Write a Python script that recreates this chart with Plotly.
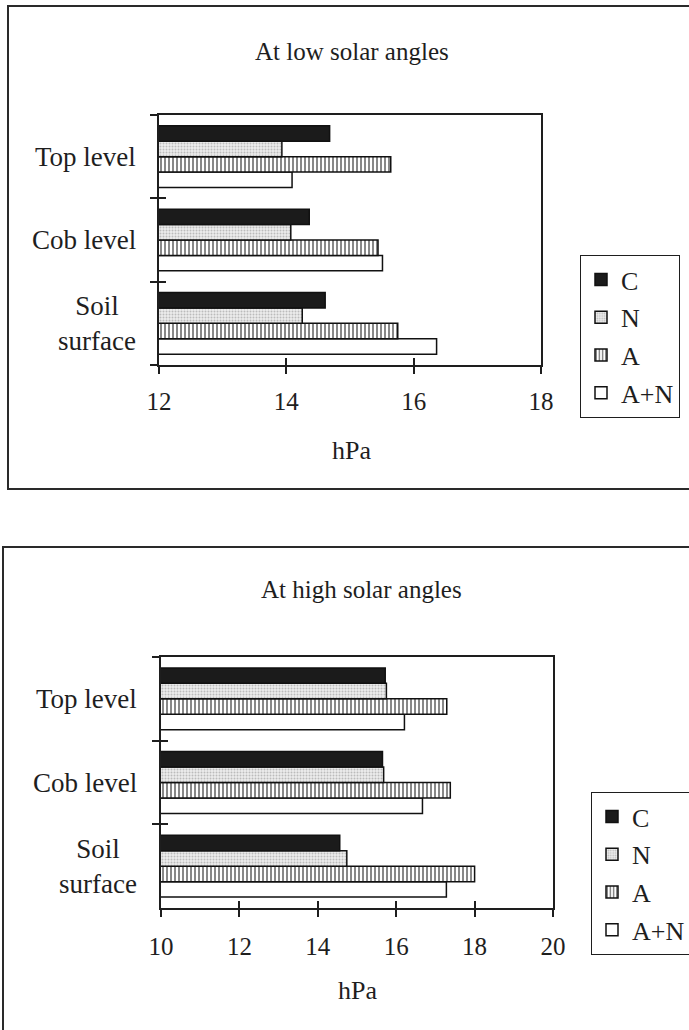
import plotly.graph_objects as go

# Canopy levels, bottom to top
levels = ["Soil surface", "Cob level", "Top level"]
level_labels = ["Soil<br>surface", "Cob level", "Top level"]
treatments = ["C", "N", "A", "A+N"]

# Vapour pressure (hPa) at low solar angles
low_C = [14.61, 14.36, 14.68]
low_N = [14.25, 14.07, 13.93]
low_A = [15.75, 15.44, 15.64]
low_AN = [16.36, 15.51, 14.09]

# Vapour pressure (hPa) at high solar angles
high_C = [14.56, 15.65, 15.72]
high_N = [14.74, 15.68, 15.75]
high_A = [18.00, 17.38, 17.29]
high_AN = [17.28, 16.67, 16.21]

low_ticks = [12, 14, 16, 18]
high_ticks = [10, 12, 14, 16, 18, 20]

W, H = 689, 1030
FONT = "Liberation Serif, Times New Roman, serif"
INK = "#1e1e1e"


def px(x):
    return x / W


def py(y):
    return 1 - y / H


styles = {
    "C": dict(color="#1b1b1b"),
    "N": dict(color="#e6e6e6",
              pattern=dict(shape=".", fgcolor="#8a8a8a", bgcolor="#ececec",
                           size=3, solidity=0.35)),
    "A": dict(color="white",
              pattern=dict(shape="|", fgcolor="#111111", bgcolor="white",
                           size=4, solidity=0.5)),
    "A+N": dict(color="white"),
}

fig = go.Figure()

panels = [
    dict(vals={"C": low_C, "N": low_N, "A": low_A, "A+N": low_AN},
         xa="x", ya="y", legend="legend"),
    dict(vals={"C": high_C, "N": high_N, "A": high_A, "A+N": high_AN},
         xa="x2", ya="y2", legend="legend2"),
]

# added bottom-up so that C sits on top of each group
for p in panels:
    for name in reversed(treatments):
        st = styles[name]
        marker = dict(color=st["color"], line=dict(color="#111111", width=1.5))
        if "pattern" in st:
            marker["pattern"] = st["pattern"]
        fig.add_trace(go.Bar(
            y=levels, x=p["vals"][name], name=name, orientation="h",
            marker=marker, xaxis=p["xa"], yaxis=p["ya"],
            legend=p["legend"], legendgroup=p["legend"] + name,
            legendrank=treatments.index(name) + 1,
        ))

# plot-area geometry in pixels
top_box = dict(x0=159, x1=541, y0=115, y1=365)
bot_box = dict(x0=161, x1=553, y0=657, y1=908)

axis_common = dict(showline=True, linecolor=INK, linewidth=2, mirror=True,
                   showgrid=False, zeroline=False,
                   tickfont=dict(family=FONT, size=25, color=INK))

legend_common = dict(xanchor="left", yanchor="top", traceorder="grouped",
                     tracegroupgap=1, bordercolor=INK, borderwidth=1,
                     bgcolor="white", font=dict(family=FONT, size=26, color=INK))

fig.update_layout(
    width=W, height=H,
    margin=dict(l=0, r=0, t=0, b=0, autoexpand=False),
    paper_bgcolor="white", plot_bgcolor="white",
    barmode="group", bargap=0.26, bargroupgap=0,
    font=dict(family=FONT, color=INK),
    xaxis=dict(domain=[px(top_box["x0"]), px(top_box["x1"])], anchor="y",
               range=[12, 18], tickvals=low_ticks, ticks="outside", ticklen=7,
               tickwidth=1.5, tickcolor=INK, ticklabelstandoff=6, **axis_common),
    yaxis=dict(domain=[py(top_box["y1"]), py(top_box["y0"])], anchor="x",
               type="category", categoryarray=levels, categoryorder="array",
               range=[-0.5, 2.5], tickson="boundaries", ticks="outside", ticklen=7,
               tickwidth=1.5, tickcolor=INK, showticklabels=False, **axis_common),
    xaxis2=dict(domain=[px(bot_box["x0"]), px(bot_box["x1"])], anchor="y2",
                range=[10, 20], tickvals=high_ticks, ticks="outside", ticklen=7,
                tickwidth=1.5, tickcolor=INK, ticklabelstandoff=8, **axis_common),
    yaxis2=dict(domain=[py(bot_box["y1"]), py(bot_box["y0"])], anchor="x2",
                type="category", categoryarray=levels, categoryorder="array",
                range=[-0.5, 2.5], tickson="boundaries", ticks="outside", ticklen=7,
                tickwidth=1.5, tickcolor=INK, showticklabels=False, **axis_common),
    # inside halves of the crossing tick marks
    xaxis3=dict(overlaying="x", anchor="y", matches="x", ticks="inside",
                ticklen=7, tickwidth=1.5, tickcolor=INK, tickvals=low_ticks,
                showticklabels=False, showgrid=False, zeroline=False, showline=False),
    xaxis4=dict(overlaying="x2", anchor="y2", matches="x2", ticks="inside",
                ticklen=7, tickwidth=1.5, tickcolor=INK, tickvals=high_ticks,
                showticklabels=False, showgrid=False, zeroline=False, showline=False),
    yaxis3=dict(overlaying="y", anchor="x", range=[-0.5, 2.5], ticks="inside",
                ticklen=7, tickwidth=1.5, tickcolor=INK,
                tickvals=[-0.5, 0.5, 1.5, 2.5], showticklabels=False,
                showgrid=False, zeroline=False, showline=False),
    yaxis4=dict(overlaying="y2", anchor="x2", range=[-0.5, 2.5], ticks="inside",
                ticklen=7, tickwidth=1.5, tickcolor=INK,
                tickvals=[-0.5, 0.5, 1.5, 2.5], showticklabels=False,
                showgrid=False, zeroline=False, showline=False),
    legend=dict(x=px(580), y=py(255), **legend_common),
    legend2=dict(x=px(591), y=py(792), **legend_common),
    showlegend=True,
)

# dummy traces so the overlay axes are drawn
for xa, ya in [("x3", "y3"), ("x4", "y4")]:
    fig.add_trace(go.Scatter(x=[None], y=[None], xaxis=xa, yaxis=ya,
                             showlegend=False, hoverinfo="skip"))


def note(text, x, y, size=26, **kw):
    d = dict(text=text, x=x, y=y, xref="paper", yref="paper", showarrow=False,
             xanchor="center", yanchor="middle",
             font=dict(size=size, family=FONT, color=INK))
    d.update(kw)
    return d


annotations = [
    note("At low solar angles", px(352), py(51), size=25),
    note("At high solar angles", px(362), py(589), size=25),
    note("hPa", px(351), py(450)),
    note("hPa", px(357), py(990)),
]
# category labels, centred line by line
for yref, right in [("y", 138), ("y2", 139)]:
    for lev, lab in zip(levels, level_labels):
        annotations.append(note(lab, px(right), lev, size=27, yref=yref,
                                xanchor="right", align="center"))
fig.update_layout(annotations=annotations)

# outer frames around each panel
fig.add_shape(type="rect", xref="paper", yref="paper",
              x0=px(8), x1=px(720), y0=py(489), y1=py(6),
              line=dict(color="#2a2a2a", width=2), layer="below")
fig.add_shape(type="rect", xref="paper", yref="paper",
              x0=px(3), x1=px(720), y0=py(1060), y1=py(547),
              line=dict(color="#2a2a2a", width=2), layer="below")

fig.write_html("out.html")
